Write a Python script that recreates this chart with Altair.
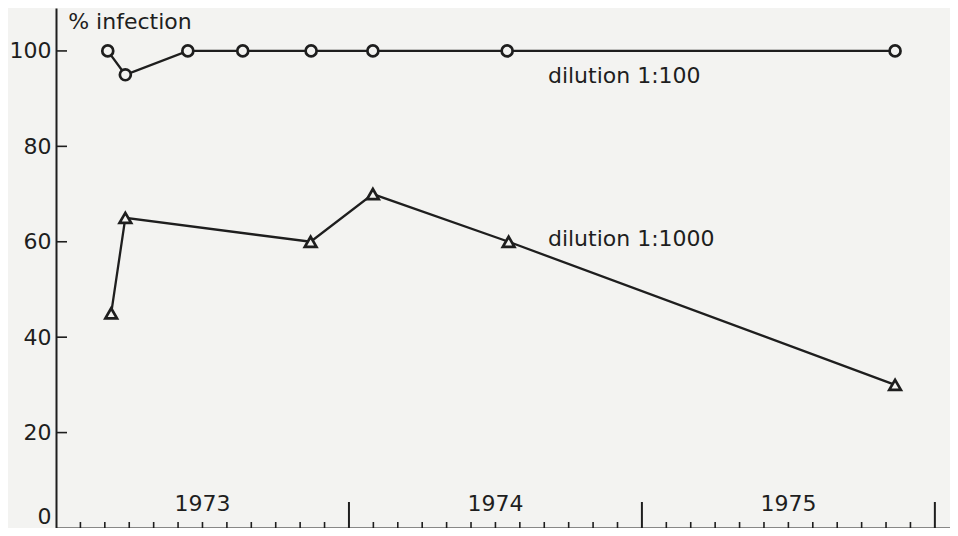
import altair as alt
import pandas as pd

# months since 1 Jan 1973
circle_months = [2.12, 2.84, 5.40, 7.65, 10.45, 12.98, 18.48, 34.37]
circle_values = [100, 95, 100, 100, 100, 100, 100, 100]
triangle_months = [2.26, 2.84, 10.43, 12.98, 18.54, 34.37]
triangle_values = [45, 65, 60, 70, 60, 30]

year_labels = ["1973", "1974", "1975"]
year_mid_months = [6, 18, 30]
year_start_months = [12, 24, 36]
month_ticks = [m for m in range(1, 37) if m % 12 != 0]
y_tick_values = [0, 20, 40, 60, 80, 100]

series_names = ["dilution 1:100", "dilution 1:1000"]
label_months = [20.15, 20.15]
label_values = [93.3, 59.1]

INK = "#1e1e1e"
BG = "#f3f3f1"
FONT = "DejaVu Sans"
W, H = 894, 520
X_DOMAIN = [0, 36.62]
Y_DOMAIN = [0, 109.0]

df = pd.DataFrame(
    {
        "month": circle_months + triangle_months,
        "value": circle_values + triangle_values,
        "series": [series_names[0]] * len(circle_months)
        + [series_names[1]] * len(triangle_months),
    }
)

xs = alt.Scale(domain=X_DOMAIN, nice=False, zero=False)
ys = alt.Scale(domain=Y_DOMAIN, nice=False)

x_enc = alt.X(
    "month:Q",
    scale=xs,
    axis=alt.Axis(
        labels=False, ticks=False, grid=False, title=None, domain=True,
        domainColor=INK, domainWidth=2,
    ),
)
y_enc = alt.Y(
    "value:Q",
    scale=ys,
    axis=alt.Axis(
        values=y_tick_values, ticks=False, grid=False, title=None, domain=True,
        domainColor=INK, domainWidth=2, labelFont=FONT, labelFontSize=22,
        labelColor=INK, labelPadding=5, labelFlush=True,
    ),
)

lines = alt.Chart(df).mark_line(color=INK, strokeWidth=2.3).encode(
    x=x_enc, y=y_enc, detail="series:N"
)
points = alt.Chart(df).mark_point(
    filled=True, fill=BG, stroke=INK, strokeWidth=2.7, opacity=1
).encode(
    x=alt.X("month:Q", scale=xs),
    y=alt.Y("value:Q", scale=ys),
    shape=alt.Shape(
        "series:N",
        scale=alt.Scale(domain=series_names, range=["circle", "triangle-up"]),
        legend=None,
    ),
    size=alt.Size(
        "series:N",
        scale=alt.Scale(domain=series_names, range=[120, 135]),
        legend=None,
    ),
)

minor = alt.Chart(pd.DataFrame({"m": month_ticks})).mark_rule(
    color=INK, strokeWidth=1.6
).encode(
    x=alt.X("m:Q", scale=xs), y=alt.value(H), y2=alt.value(H - 6)
)
major = alt.Chart(pd.DataFrame({"m": year_start_months})).mark_rule(
    color=INK, strokeWidth=2
).encode(
    x=alt.X("m:Q", scale=xs), y=alt.value(H), y2=alt.value(H - 26)
)
yticks = alt.Chart(pd.DataFrame({"v": y_tick_values[1:]})).mark_rule(
    color=INK, strokeWidth=1.6
).encode(
    y=alt.Y("v:Q", scale=ys), x=alt.value(0), x2=alt.value(11)
)

years = alt.Chart(
    pd.DataFrame({"m": year_mid_months, "t": year_labels, "v": [3.6] * 3})
).mark_text(
    font=FONT, fontSize=22, color=INK, align="center", baseline="alphabetic"
).encode(x=alt.X("m:Q", scale=xs), y=alt.Y("v:Q", scale=ys), text="t:N")

labels = alt.Chart(
    pd.DataFrame({"m": label_months, "v": label_values, "t": series_names})
).mark_text(
    font=FONT, fontSize=22, color=INK, align="left", baseline="alphabetic"
).encode(x=alt.X("m:Q", scale=xs), y=alt.Y("v:Q", scale=ys), text="t:N")

ytitle = alt.Chart(
    pd.DataFrame({"m": [0.5], "v": [104.6], "t": ["% infection"]})
).mark_text(
    font=FONT, fontSize=22, color=INK, align="left", baseline="alphabetic"
).encode(x=alt.X("m:Q", scale=xs), y=alt.Y("v:Q", scale=ys), text="t:N")

chart = (
    alt.layer(lines, minor, major, yticks, points, years, labels, ytitle)
    .properties(
        width=W,
        height=H,
        background=BG,
        autosize=alt.AutoSizeParams(type="none"),
        padding={"left": 48, "top": 0, "right": 0, "bottom": 0},
    )
    .configure_view(stroke=None)
)

chart.save("out.html", embed_options={"renderer": "svg", "actions": False})
